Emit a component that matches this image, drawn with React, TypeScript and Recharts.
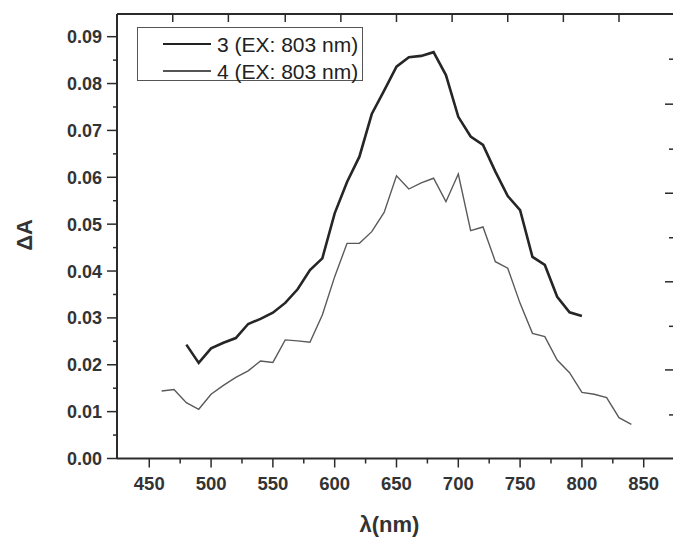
import { LineChart, Line, XAxis, YAxis } from "recharts";

// wavelength (nm) for every sample
const wavelengths = [
  460, 470, 480, 490, 500, 510, 520, 530, 540, 550, 560, 570, 580, 590, 600,
  610, 620, 630, 640, 650, 660, 670, 680, 690, 700, 710, 720, 730, 740, 750,
  760, 770, 780, 790, 800, 810, 820, 830, 840,
];

// 3 (EX: 803 nm) - measured 480..800 only
const sample3 = [
  null, null, 0.0243, 0.0204, 0.0235, 0.0247, 0.0257, 0.0287, 0.0298, 0.0311,
  0.0332, 0.0361, 0.0402, 0.0427, 0.0523, 0.059, 0.0644, 0.0735, 0.0785,
  0.0836, 0.0856, 0.0859, 0.0867, 0.0818, 0.0729, 0.0687, 0.0669, 0.0612,
  0.056, 0.053, 0.043, 0.0413, 0.0345, 0.0312, 0.0304, null, null, null, null,
];

// 4 (EX: 803 nm)
const sample4 = [
  0.0144, 0.0147, 0.0119, 0.0105, 0.0137, 0.0156, 0.0173, 0.0187, 0.0208,
  0.0205, 0.0253, 0.0251, 0.0248, 0.0306, 0.0388, 0.0459, 0.0459, 0.0484,
  0.0525, 0.0603, 0.0575, 0.0588, 0.0598, 0.0548, 0.0607, 0.0486, 0.0494,
  0.042, 0.0406, 0.0331, 0.0267, 0.026, 0.021, 0.0183, 0.0141, 0.0137, 0.013,
  0.0087, 0.0073,
];

const xTicks = [
  450, 475, 500, 525, 550, 575, 600, 625, 650, 675, 700, 725, 750, 775, 800,
  825, 850,
];
const yTicks = [
  0, 0.005, 0.01, 0.015, 0.02, 0.025, 0.03, 0.035, 0.04, 0.045, 0.05, 0.055,
  0.06, 0.065, 0.07, 0.075, 0.08, 0.085, 0.09,
];
// mirror axes of the scanned frame
const topTicks = [469, 514, 560, 605, 650, 695, 740, 785, 830];
const rightTicks = [
  0.0093, 0.0189, 0.0282, 0.0377, 0.0471, 0.0566, 0.066, 0.0756, 0.0852,
];

const data = wavelengths.map((w, i) => ({
  w,
  s3: sample3[i],
  s4: sample4[i],
}));

const xDomain = [423.9, 874.5];
const yDomain = [0, 0.09484];

const ink = "#2b2b2b";
const font = "'Liberation Sans', Arial, sans-serif";

function LeftTick(props: any) {
  const { x, y, payload, index } = props;
  const major = index % 2 === 0;
  return (
    <g>
      <line x1={x} x2={x - (major ? 10 : 4)} y1={y} y2={y} stroke={ink} strokeWidth={1.5} />
      {major && (
        <text
          x={x - 15}
          y={y}
          dy="0.36em"
          textAnchor="end"
          fontFamily={font}
          fontWeight="bold"
          fontSize={18}
          fill="#333"
        >
          {payload.value.toFixed(2)}
        </text>
      )}
    </g>
  );
}

function BottomTick(props: any) {
  const { x, y, payload, index } = props;
  const major = index % 2 === 0;
  return (
    <g>
      <line x1={x} x2={x} y1={y} y2={y + (major ? 9 : 5)} stroke={ink} strokeWidth={1.5} />
      {major && (
        <text
          x={x}
          y={y + 31}
          textAnchor="middle"
          fontFamily={font}
          fontWeight="bold"
          fontSize={18.5}
          fill="#333"
        >
          {payload.value}
        </text>
      )}
    </g>
  );
}

function TopTick(props: any) {
  const { x, y } = props;
  return <line x1={x} x2={x} y1={y} y2={y + 8} stroke={ink} strokeWidth={1.5} />;
}

function RightTick(props: any) {
  const { x, y, index } = props;
  const long = index % 2 === 1;
  return <line x1={x} x2={x - (long ? 9 : 5)} y1={y} y2={y} stroke={ink} strokeWidth={1.5} />;
}

function Legend() {
  const row = (label: string, width: number, color: string, top: number) => (
    <div style={{ position: "absolute", left: 0, top, height: 0 }}>
      <div
        style={{
          position: "absolute",
          left: 25,
          top: -width / 2,
          width: 48,
          height: width,
          background: color,
        }}
      />
      <div
        style={{
          position: "absolute",
          left: 79,
          top: -12.5,
          whiteSpace: "nowrap",
          fontFamily: font,
          fontSize: 21,
          lineHeight: "25px",
          color: "#222",
        }}
      >
        {label}
      </div>
    </div>
  );
  return (
    <div
      style={{
        position: "absolute",
        left: 137,
        top: 27,
        width: 226,
        height: 54,
        border: "1px solid #555",
        boxSizing: "border-box",
        background: "#fff",
      }}
    >
      {row("3 (EX: 803 nm)", 2.5, "#222", 16)}
      {row("4 (EX: 803 nm)", 1.3, "#555", 43)}
    </div>
  );
}

export default function App() {
  return (
    <div
      style={{
        position: "absolute",
        left: 0,
        top: 0,
        width: 673,
        height: 542,
        overflow: "hidden",
        background: "#fff",
      }}
    >
      <LineChart
        width={675}
        height={542}
        data={data}
        margin={{ top: 13, right: 0, bottom: 0, left: 0 }}
      >
        <XAxis
          dataKey="w"
          type="number"
          domain={xDomain}
          allowDataOverflow
          ticks={xTicks}
          interval={0}
          height={83.5}
          tickSize={0}
          tickMargin={0}
          tickLine={false}
          tick={<BottomTick />}
          axisLine={{ stroke: ink, strokeWidth: 2 }}
          label={() => (
            <text
              x={389.5}
              y={532}
              textAnchor="middle"
              fontFamily={font}
              fontWeight="bold"
              fontSize={22}
              fill="#333"
            >
              λ(nm)
            </text>
          )}
        />
        <XAxis
          xAxisId="top"
          dataKey="w"
          orientation="top"
          type="number"
          domain={xDomain}
          allowDataOverflow
          ticks={topTicks}
          interval={0}
          height={1}
          tickSize={0}
          tickMargin={0}
          tickLine={false}
          tick={<TopTick />}
          axisLine={{ stroke: ink, strokeWidth: 2 }}
        />
        <YAxis
          type="number"
          domain={yDomain}
          allowDataOverflow
          ticks={yTicks}
          interval={0}
          width={117}
          tickSize={0}
          tickMargin={0}
          tickLine={false}
          tick={<LeftTick />}
          axisLine={{ stroke: ink, strokeWidth: 2 }}
          label={() => (
            <text
              x={24.5}
              y={235}
              dy="0.36em"
              textAnchor="middle"
              transform="rotate(-90 24.5 235)"
              fontFamily={font}
              fontWeight="bold"
              fontSize={22}
              fill="#333"
            >
              ΔA
            </text>
          )}
        />
        <YAxis
          yAxisId="right"
          orientation="right"
          type="number"
          domain={yDomain}
          allowDataOverflow
          ticks={rightTicks}
          interval={0}
          width={1}
          tickSize={0}
          tickMargin={0}
          tickLine={false}
          tick={<RightTick />}
          axisLine={false}
        />
        <Line
          dataKey="s3"
          type="linear"
          stroke="#262626"
          strokeWidth={2.6}
          dot={false}
          isAnimationActive={false}
        />
        <Line
          dataKey="s4"
          type="linear"
          stroke="#5a5a5a"
          strokeWidth={1.4}
          dot={false}
          isAnimationActive={false}
        />
        {/* invisible copy so the mirror frame axes get drawn */}
        <Line
          xAxisId="top"
          yAxisId="right"
          dataKey="s4"
          stroke="none"
          dot={false}
          activeDot={false}
          legendType="none"
          isAnimationActive={false}
        />
      </LineChart>
      <Legend />
    </div>
  );
}
